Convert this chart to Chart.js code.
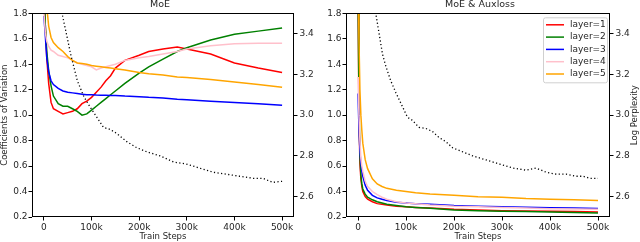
<!DOCTYPE html>
<html>
<head>
<meta charset="utf-8">
<script src="https://cdn.jsdelivr.net/npm/chart.js@4.4.1/dist/chart.umd.min.js"></script>
<style>
  body { margin: 0; background: #fff; }
  .panel { position: absolute; top: 0; width: 320px; height: 242px; }
</style>
</head>
<body>
<div class="panel" style="left:0"><canvas id="moeChart" width="320" height="242"></canvas></div>
<div class="panel" style="left:320px"><canvas id="auxChart" width="320" height="242"></canvas></div>
<script>
// tick labels
const xTicks = [0, 100000, 200000, 300000, 400000, 500000];
const cvTicks = [0.2, 0.4, 0.6, 0.8, 1.0, 1.2, 1.4, 1.6, 1.8];
const pplTicks = [2.6, 2.8, 3.0, 3.2, 3.4];
const layerNames = ['layer=1', 'layer=2', 'layer=3', 'layer=4', 'layer=5'];

// MoE panel
const moeSteps = [0, 3e3, 6e3, 10e3, 15e3, 20e3, 30e3, 40e3, 50e3, 60e3, 70e3, 80e3, 90e3, 100e3, 110e3, 120e3,
    130e3, 140e3, 150e3, 170e3, 200e3, 220e3, 250e3, 280e3, 300e3, 350e3, 400e3, 450e3, 500e3];
const moeLayer1 = [2.0, 1.7, 1.45, 1.25, 1.1, 1.05, 1.03, 1.01, 1.02, 1.03, 1.05, 1.09, 1.11, 1.14, 1.18, 1.22,
    1.27, 1.31, 1.37, 1.43, 1.47, 1.50, 1.52, 1.535, 1.52, 1.48, 1.41, 1.37, 1.335];
const moeLayer2 = [2.0, 1.7, 1.5, 1.35, 1.23, 1.15, 1.09, 1.07, 1.07, 1.05, 1.03, 1.0, 1.01, 1.04, 1.07, 1.10,
    1.13, 1.16, 1.19, 1.25, 1.33, 1.38, 1.44, 1.50, 1.53, 1.59, 1.635, 1.66, 1.685];
const moeLayer3 = [1.78, 1.62, 1.45, 1.34, 1.27, 1.24, 1.21, 1.19, 1.18, 1.175, 1.17, 1.165, 1.16, 1.16, 1.158, 1.157,
    1.156, 1.155, 1.155, 1.15, 1.145, 1.14, 1.135, 1.125, 1.12, 1.11, 1.10, 1.09, 1.077];
const moeLayer4 = [1.8, 1.65, 1.58, 1.54, 1.51, 1.50, 1.47, 1.46, 1.45, 1.43, 1.41, 1.40, 1.39, 1.38, 1.355, 1.37,
    1.38, 1.39, 1.40, 1.43, 1.45, 1.46, 1.48, 1.50, 1.52, 1.545, 1.56, 1.565, 1.565];
const moeLayer5 = [2.2, 2.0, 1.85, 1.7, 1.61, 1.57, 1.53, 1.50, 1.46, 1.43, 1.41, 1.405, 1.40, 1.39, 1.385, 1.38,
    1.375, 1.37, 1.365, 1.355, 1.335, 1.325, 1.315, 1.30, 1.295, 1.28, 1.26, 1.24, 1.22];
const moePplSteps = [30e3, 38e3, 49e3, 56e3, 70e3, 84e3, 97e3, 111e3, 125e3, 139e3, 153e3, 174e3, 195e3, 216e3,
    244e3, 272e3, 299e3, 327e3, 355e3, 383e3, 411e3, 439e3, 460e3, 480e3, 500e3];
const moePpl = [3.7, 3.5, 3.38, 3.30, 3.17, 3.09, 3.04, 2.99, 2.94, 2.93, 2.91, 2.87, 2.84, 2.82,
    2.80, 2.77, 2.76, 2.74, 2.72, 2.71, 2.70, 2.69, 2.69, 2.67, 2.675];

// MoE & Auxloss panel
const auxSteps = [0, 2e3, 4e3, 6e3, 8e3, 10e3, 15e3, 20e3, 30e3, 40e3, 50e3, 60e3, 80e3, 100e3, 120e3, 150e3,
    200e3, 250e3, 300e3, 350e3, 400e3, 450e3, 500e3];
const auxLayer1 = [2.0, 1.0, 0.62, 0.5, 0.44, 0.40, 0.36, 0.34, 0.32, 0.305, 0.30, 0.295, 0.285, 0.28, 0.275, 0.27,
    0.26, 0.255, 0.25, 0.248, 0.245, 0.243, 0.24];
const auxLayer2 = [2.0, 1.1, 0.68, 0.53, 0.46, 0.42, 0.38, 0.355, 0.335, 0.32, 0.31, 0.30, 0.29, 0.28, 0.275, 0.268,
    0.255, 0.25, 0.245, 0.243, 0.24, 0.235, 0.232];
const auxLayer3 = [1.17, 0.9, 0.72, 0.62, 0.56, 0.52, 0.45, 0.41, 0.37, 0.35, 0.34, 0.33, 0.315, 0.31, 0.305, 0.30,
    0.29, 0.285, 0.28, 0.277, 0.273, 0.27, 0.267];
const auxLayer4 = [1.3, 1.0, 0.8, 0.66, 0.6, 0.56, 0.48, 0.44, 0.40, 0.375, 0.355, 0.34, 0.32, 0.31, 0.305, 0.295,
    0.285, 0.28, 0.275, 0.27, 0.265, 0.262, 0.26];
const auxLayer5 = [2.2, 1.6, 1.2, 1.0, 0.88, 0.78, 0.65, 0.58, 0.50, 0.46, 0.44, 0.425, 0.41, 0.40, 0.39, 0.38,
    0.37, 0.36, 0.355, 0.345, 0.34, 0.335, 0.33];
const auxPplSteps = [30e3, 37e3, 44e3, 51e3, 58e3, 68e3, 79e3, 93e3, 103e3, 113e3, 127e3, 141e3, 155e3, 169e3, 183e3,
    197e3, 218e3, 239e3, 267e3, 295e3, 323e3, 350e3, 371e3, 392e3, 413e3, 434e3, 455e3, 469e3, 483e3, 500e3];
const auxPpl = [3.7, 3.5, 3.40, 3.30, 3.24, 3.17, 3.11, 3.04, 2.99, 2.975, 2.94, 2.935, 2.92, 2.89, 2.87,
    2.84, 2.82, 2.80, 2.78, 2.76, 2.74, 2.73, 2.74, 2.72, 2.71, 2.71, 2.70, 2.70, 2.69, 2.69];

const layerColors = ['#ff0000', '#008000', '#0000ff', '#ffc0cb', '#ffa500'];
const textColor = '#262626';
const fontFamily = '"DejaVu Sans", sans-serif';

function toPoints(xs, ys) {
    return xs.map((x, i) => ({ x: x, y: ys[i] }));
}

function buildDatasets(steps, layers, pplSteps, ppl) {
    const sets = layers.map((vals, i) => ({
        label: layerNames[i],
        data: toPoints(steps, vals),
        borderColor: layerColors[i],
        borderWidth: 1.5,
        yAxisID: 'y',
        order: layers.length - i,
        clip: 0
    }));
    sets.push({
        label: 'ppl',
        data: toPoints(pplSteps, ppl),
        borderColor: '#000',
        borderWidth: 1.3,
        borderDash: [1.2, 2.4],
        yAxisID: 'y2',
        order: 0,
        clip: 0
    });
    return sets;
}

function tickGrid() {
    return { display: true, drawOnChartArea: false, drawTicks: true, tickLength: 3.5, tickColor: '#000', tickWidth: 1 };
}

function buildOptions(title, leftTitle) {
    return {
        responsive: false,
        animation: false,
        devicePixelRatio: 1,
        layout: { padding: 0 },
        elements: { point: { radius: 0 }, line: { tension: 0 } },
        plugins: {
            legend: { display: false },
            tooltip: { enabled: false },
            title: {
                display: true, text: title, color: textColor,
                font: { family: fontFamily, size: 9.5, weight: 'normal', lineHeight: 1.0 },
                padding: { top: 0, bottom: 3.8 }
            }
        },
        scales: {
            x: {
                type: 'linear', min: -25000, max: 525000,
                afterBuildTicks: s => { s.ticks = xTicks.map(v => ({ value: v })); },
                afterFit: s => { s.height = 25; },
                ticks: {
                    color: textColor, font: { family: fontFamily, size: 9 }, padding: 1.5,
                    maxRotation: 0, autoSkip: false,
                    callback: v => v === 0 ? '0' : (v / 1000) + 'k'
                },
                grid: tickGrid(),
                border: { display: false },
                title: { display: true, text: 'Train Steps', color: textColor,
                    font: { family: fontFamily, size: 8.5 }, padding: 0 }
            },
            y: {
                position: 'left', min: 0.2, max: 1.8,
                afterBuildTicks: s => { s.ticks = cvTicks.map(v => ({ value: v })); },
                afterFit: s => { s.width = leftTitle ? 32 : 26; },
                ticks: { color: textColor, font: { family: fontFamily, size: 9 }, padding: 1,
                    callback: v => v.toFixed(1) },
                grid: tickGrid(),
                border: { display: false },
                title: { display: !!leftTitle, text: leftTitle || '', color: textColor,
                    font: { family: fontFamily, size: 8.5 }, padding: 0 }
            },
            y2: {
                position: 'right', min: 2.5, max: 3.5,
                afterBuildTicks: s => { s.ticks = pplTicks.map(v => ({ value: v })); },
                afterFit: s => { s.width = leftTitle ? 26 : 30; },
                ticks: { color: textColor, font: { family: fontFamily, size: 9 }, padding: 2,
                    callback: v => v.toFixed(1) },
                grid: tickGrid(),
                border: { display: false }
            }
        }
    };
}

// matplotlib draws all four spines
const framePlugin = {
    id: 'frame',
    afterDraw(chart) {
        const a = chart.chartArea;
        const ctx = chart.ctx;
        const l = Math.round(a.left), t = Math.round(a.top);
        const r = Math.round(a.right), b = Math.round(a.bottom);
        ctx.save();
        ctx.strokeStyle = '#000';
        ctx.lineWidth = 1;
        ctx.strokeRect(l + 0.5, t + 0.5, r - l - 1, b - t - 1);
        ctx.restore();
    }
};

// right-hand axis label reading bottom to top
const rightTitlePlugin = {
    id: 'rightTitle',
    afterDraw(chart) {
        const a = chart.chartArea;
        const ctx = chart.ctx;
        ctx.save();
        ctx.translate(chart.width - 5, (a.top + a.bottom) / 2);
        ctx.rotate(-Math.PI / 2);
        ctx.fillStyle = textColor;
        ctx.font = '8.5px ' + fontFamily;
        ctx.textAlign = 'center';
        ctx.textBaseline = 'middle';
        ctx.fillText('Log Perplexity', 0, 0);
        ctx.restore();
    }
};

const legendPlugin = {
    id: 'boxLegend',
    afterDraw(chart) {
        const a = chart.chartArea;
        const ctx = chart.ctx;
        const w = 64, h = 65;
        const x0 = a.right - 3 - w, y0 = a.top + 4;
        ctx.save();
        ctx.beginPath();
        ctx.roundRect(x0 + 0.5, y0 + 0.5, w, h, 2);
        ctx.fillStyle = 'rgba(255,255,255,0.8)';
        ctx.fill();
        ctx.strokeStyle = '#d0d0d0';
        ctx.lineWidth = 1;
        ctx.stroke();
        ctx.font = '9px ' + fontFamily;
        ctx.textBaseline = 'middle';
        layerNames.forEach((name, i) => {
            const y = y0 + 7.5 + i * 12.3;
            ctx.beginPath();
            ctx.moveTo(x0 + 3, y);
            ctx.lineTo(x0 + 21, y);
            ctx.strokeStyle = layerColors[i];
            ctx.lineWidth = 1.5;
            ctx.stroke();
            ctx.fillStyle = textColor;
            ctx.fillText(name, x0 + 27, y);
        });
        ctx.restore();
    }
};

new Chart(document.getElementById('moeChart'), {
    type: 'line',
    data: { datasets: buildDatasets(moeSteps, [moeLayer1, moeLayer2, moeLayer3, moeLayer4, moeLayer5], moePplSteps, moePpl) },
    options: buildOptions('MoE', 'Coefficients of Variation'),
    plugins: [framePlugin]
});

new Chart(document.getElementById('auxChart'), {
    type: 'line',
    data: { datasets: buildDatasets(auxSteps, [auxLayer1, auxLayer2, auxLayer3, auxLayer4, auxLayer5], auxPplSteps, auxPpl) },
    options: buildOptions('MoE & Auxloss', null),
    plugins: [framePlugin, rightTitlePlugin, legendPlugin]
});
</script>
</body>
</html>
